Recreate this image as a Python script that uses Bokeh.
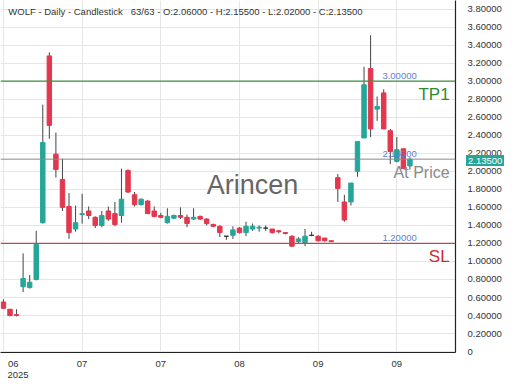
from bokeh.plotting import figure
from bokeh.layouts import column
from bokeh.models import Range1d, FixedTicker, CustomJSTickFormatter, Span, ColumnDataSource, Div
from bokeh.core.properties import value
from bokeh.embed import file_html
from bokeh.resources import INLINE

# ---- data ----
opens = [0.55, 0.47, 0.41, 0.72, 0.71, 0.80, 1.43, 3.28, 2.19, 1.91,
         1.61, 1.36, 1.52, 1.56, 1.49, 1.40, 1.56, 1.53, 1.51, 2.01,
         1.74, 1.63, 1.67, 1.56, 1.51, 1.43, 1.48, 1.51, 1.49, 1.47,
         1.50, 1.47, 1.41, 1.39, 1.28, 1.29, 1.37, 1.32, 1.36, 1.37,
         1.37, 1.36, 1.34, 1.32, 1.28, 1.22, 1.21, 1.29, 1.28, 1.26,
         1.23, 1.93, 1.66, 1.66, 2.00, 2.37, 3.14, 2.69, 2.87, 2.45,
         2.11, 2.25, 2.06]
highs = [0.58, 0.47, 0.47, 1.09, 0.85, 1.34, 2.74, 3.32, 2.43, 2.14,
         1.76, 1.62, 1.75, 1.61, 1.50, 1.56, 1.61, 1.66, 2.03, 2.02,
         1.77, 1.70, 1.68, 1.61, 1.54, 1.59, 1.52, 1.60, 1.52, 1.59,
         1.51, 1.48, 1.42, 1.40, 1.28, 1.39, 1.38, 1.44, 1.42, 1.40,
         1.40, 1.36, 1.35, 1.32, 1.29, 1.27, 1.36, 1.33, 1.29, 1.26,
         1.23, 1.97, 1.74, 1.87, 2.33, 3.16, 3.51, 2.83, 2.91, 2.47,
         2.38, 2.25, 2.155]
lows = [0.48, 0.39, 0.39, 0.66, 0.70, 0.79, 1.42, 2.36, 1.93, 1.56,
        1.25, 1.33, 1.42, 1.47, 1.37, 1.38, 1.45, 1.39, 1.43, 1.76,
        1.61, 1.62, 1.53, 1.49, 1.48, 1.42, 1.47, 1.47, 1.38, 1.46,
        1.46, 1.40, 1.38, 1.27, 1.24, 1.25, 1.31, 1.28, 1.34, 1.33,
        1.34, 1.31, 1.31, 1.30, 1.16, 1.20, 1.17, 1.28, 1.22, 1.22,
        1.22, 1.66, 1.44, 1.62, 1.94, 2.37, 2.38, 2.56, 2.47, 2.08,
        2.10, 2.03, 2.02]
closes = [0.48, 0.40, 0.40, 0.81, 0.77, 1.19, 2.32, 2.51, 2.02, 1.60,
          1.32, 1.43, 1.53, 1.51, 1.40, 1.51, 1.47, 1.41, 1.69, 1.77,
          1.63, 1.69, 1.53, 1.50, 1.49, 1.50, 1.51, 1.49, 1.42, 1.49,
          1.47, 1.42, 1.39, 1.32, 1.28, 1.35, 1.32, 1.39, 1.39, 1.38,
          1.37, 1.32, 1.33, 1.31, 1.17, 1.25, 1.28, 1.29, 1.23, 1.23,
          1.22, 1.81, 1.46, 1.87, 2.33, 2.96, 2.47, 2.72, 2.47, 2.22,
          2.24, 2.03, 2.135]

grid_x = [0, 12, 24, 36, 48, 60]
label_x = [1.5, 12, 24, 36, 48, 60]
x_tick_labels = ["06", "07", "07", "08", "09", "09"]
year_label = "2025"
y_ticks = [0, 0.2, 0.4, 0.6, 0.8, 1.0, 1.2, 1.4, 1.6, 1.8, 2.0,
           2.2, 2.4, 2.6, 2.8, 3.0, 3.2, 3.4, 3.6, 3.8]

tp1_level = 3.0
sl_level = 1.2
last_price = 2.135
NB = "\u00a0"
title_text = ("WOLF - Daily - Candlestick" + NB * 3 +
              "63/63 - O:2.06000 - H:2.15500 - L:2.02000 - C:2.13500")

UP = "#26a69a"
DOWN = "#e2374e"
DOJI = "#333333"
FONT = "Liberation Sans"

W, H = 504, 374
BR, BB = 46, 22
X0, X1 = -0.45, 68.95
Y0, Y1 = -0.01, 3.895

n = len(opens)
xs = list(range(n))
colors = [UP if c > o else (DOWN if c < o else DOJI) for o, c in zip(opens, closes)]
src = ColumnDataSource(dict(
    x=xs, o=opens, h=highs, l=lows, c=closes,
    top=[max(o, c) for o, c in zip(opens, closes)],
    bottom=[min(o, c) for o, c in zip(opens, closes)],
    color=colors,
))

p = figure(width=W, height=H, output_backend="svg", toolbar_location=None,
           x_range=Range1d(X0, X1), y_range=Range1d(Y0, Y1),
           y_axis_location="right",
           min_border_left=0, min_border_top=0, min_border_right=BR, min_border_bottom=BB)
p.outline_line_color = None
p.background_fill_color = "white"

# grids
p.xgrid.ticker = FixedTicker(ticks=grid_x)
p.ygrid.ticker = FixedTicker(ticks=y_ticks)
p.grid.grid_line_color = "#e6e6e6"
p.grid.grid_line_width = 1

# axes
p.xaxis.ticker = FixedTicker(ticks=label_x)
p.xaxis.major_label_overrides = {t: lab for t, lab in zip(label_x, x_tick_labels)}
p.yaxis.ticker = FixedTicker(ticks=y_ticks)
p.yaxis.formatter = CustomJSTickFormatter(code="return tick == 0 ? '0' : tick.toFixed(5);")
for ax in (p.xaxis[0], p.yaxis[0]):
    ax.axis_line_color = "#222222"
    ax.axis_line_width = 1.2
    ax.major_tick_line_color = None
    ax.minor_tick_line_color = None
    ax.major_label_text_font = FONT
    ax.major_label_text_font_size = "9.5px"
    ax.major_label_text_color = "#333333"
p.yaxis.major_label_standoff = 6
p.xaxis.major_label_standoff = 2

# reference lines
p.add_layout(Span(location=tp1_level, dimension="width", line_color="#3f8f3f", line_width=1.2))
p.add_layout(Span(location=sl_level, dimension="width", line_color="#c0474a", line_width=1.2))
p.add_layout(Span(location=last_price, dimension="width", line_color="#8a8a8a", line_width=1))

# watermark
p.text(x=[38.0], y=[1.85], text=["Arincen"], text_font=value(FONT), text_font_size="27px",
       text_color="#666666", text_align="center", text_baseline="middle")

# candles
p.segment(x0="x", y0="h", x1="x", y1="l", source=src, line_color="#444444", line_width=1)
p.vbar(x="x", width=0.68, top="top", bottom="bottom", source=src,
       fill_color="color", line_color="color", line_width=1)

# level labels
p.text(x=[57.8, 57.8, 57.8], y=[3.06, 2.19, 1.26], text=["3.00000", "2.13500", "1.20000"],
       text_font=value(FONT), text_font_size="9.5px", text_color="#5b7fd6",
       text_align="left", text_baseline="middle")
p.text(x=[68.05], y=[2.85], text=["TP1"], text_font=value(FONT), text_font_size="17px",
       text_color="#2e8b2e", text_align="right", text_baseline="middle")
p.text(x=[68.05], y=[1.05], text=["SL"], text_font=value(FONT), text_font_size="17px",
       text_color="#d0282e", text_align="right", text_baseline="middle")
p.text(x=[68.05], y=[1.99], text=["At Price"], text_font=value(FONT), text_font_size="16px",
       text_color="#8a8a8a", text_align="right", text_baseline="middle")

# title
p.text(x=[0.74], y=[3.77], text=[title_text], text_font=value(FONT), text_font_size="9.5px",
       text_color="#333333", text_align="left", text_baseline="middle")

# overlays outside the plot frame (price tag on the axis, year under first month)
fw = W - BR
fh = H - BB
tag_top = (Y1 - last_price) / (Y1 - Y0) * fh - 8.5
tag = Div(text="2.13500", styles={
    "position": "absolute", "left": f"{fw + 3}px", "top": f"{tag_top:.1f}px",
    "background-color": UP, "color": "white", "font-family": FONT,
    "font-size": "9.5px", "line-height": "11px", "padding": "0px 2px",
    "white-space": "nowrap", "z-index": "10"})
year_left = (label_x[0] - X0) / (X1 - X0) * fw - 10.5
year = Div(text=year_label, styles={
    "position": "absolute", "left": f"{year_left:.1f}px", "top": f"{fh + 12}px",
    "color": "#333333", "font-family": FONT, "font-size": "9.5px",
    "line-height": "11px", "white-space": "nowrap", "z-index": "10"})

layout = column(p, tag, year, styles={"position": "relative"})
open("out.html", "w").write(file_html(layout, INLINE))
